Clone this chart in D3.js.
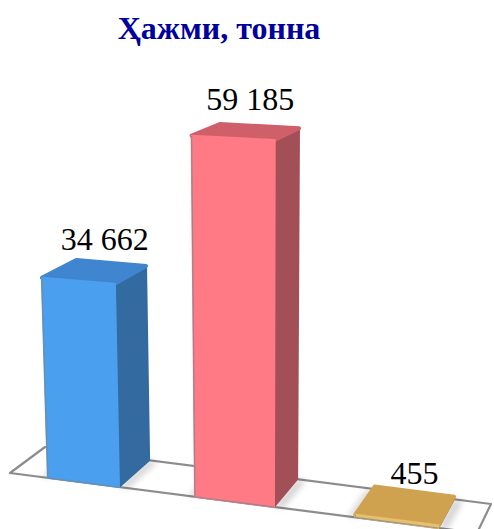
<!DOCTYPE html>
<html>
<head>
<meta charset="utf-8">
<script src="https://cdn.jsdelivr.net/npm/d3@7"></script>
<style>
  html, body { margin: 0; padding: 0; background: #fff; }
  svg { display: block; }
  text { font-family: "Liberation Serif", serif; }
</style>
</head>
<body>
<div id="chart"></div>
<script>
const titleText = 'Ҳажми, тонна';
const categories = ['A', 'B', 'C'];
const values = [34662, 59185, 455];
const valueLabels = ['34 662', '59 185', '455'];

const palette = [
    { front: '#4a9fee', top: '#3f85cf', side: '#336a9f' },
    { front: '#ff7a85', top: '#cf5f69', side: '#a34f58' },
    { front: '#e8bf6c', top: '#cfa24f', side: '#9a7a3c' }
];
const labelNudge = [10, 4, 9];

const W = 494, H = 529;

const svg = d3.select('#chart').append('svg')
    .attr('width', W)
    .attr('height', H);

const defs = svg.append('defs');
defs.append('filter').attr('id', 'soft')
    .attr('x', '-30%').attr('y', '-30%').attr('width', '160%').attr('height', '160%')
    .append('feGaussianBlur').attr('stdDeviation', 3);

// band position along the floor, 0 = left end, 1 = right end
const band = d3.scaleBand()
    .domain(categories)
    .range([0, 1])
    .paddingInner(0.5)
    .paddingOuter(0.27)
    .align(0.574);

// slight perspective along the floor
const warp = d3.scalePow().exponent(1.1).domain([0, 1]).range([0, 1]);

// floor edges in screen space
const frontX = d3.scaleLinear().domain([0, 1]).range([10, 477]);
const frontY = d3.scaleLinear().domain([0, 1]).range([473, 533]);
const backX = d3.scaleLinear().domain([0, 1]).range([45, 491]);
const backY = d3.scaleLinear().domain([0, 1]).range([447, 504]);

// pixels per tonne grows toward the viewer (bigger base y) and with bar height
const pxPerTonne = d3.scaleLinear().domain([451, 487]).range([0.00552, 0.00586]);
const valueBoost = d3.scaleLinear().domain([0, d3.max(values)]).range([0.965, 1.025]);
const leanX = 260, leanK = 0.000143;

function floorPt(u, v) {
    const w = warp(u);
    return [
        frontX(w) + (backX(w) - frontX(w)) * v,
        frontY(w) + (backY(w) - frontY(w)) * v
    ];
}

function lift(p, value) {
    const h = value * pxPerTonne(p[1]) * valueBoost(value);
    return [p[0] + (p[0] - leanX) * leanK * h, p[1] - h];
}

const line = d3.line().curve(d3.curveLinearClosed);
const g = svg.append('g');

// floor
const floor = [floorPt(0, 0), floorPt(1, 0), floorPt(1, 1), floorPt(0, 1)];
g.append('path')
    .attr('d', line(floor))
    .attr('fill', '#fff')
    .attr('stroke', '#8c8c8c')
    .attr('stroke-width', 2.2)
    .attr('stroke-linejoin', 'round');

const bars = categories.map((c, i) => {
    const u0 = band(c), u1 = u0 + band.bandwidth();
    const fl = floorPt(u0, 0), fr = floorPt(u1, 0), br = floorPt(u1, 1), bl = floorPt(u0, 1);
    const v = values[i];
    return {
        i, fl, fr, br, bl,
        tfl: lift(fl, v), tfr: lift(fr, v), tbr: lift(br, v), tbl: lift(bl, v)
    };
});

// soft shadow on the floor, right of each bar
g.selectAll('.shadow')
    .data(bars)
    .enter().append('path')
    .attr('class', 'shadow')
    .attr('d', d => line([d.fr, d.br, [d.br[0] + 9, d.br[1] + 1], [d.fr[0] + 9, d.fr[1] + 1]]))
    .attr('fill', '#000')
    .attr('opacity', 0.18)
    .attr('filter', 'url(#soft)');

// left-side shadow, only visible around the flat bar
g.selectAll('.shadow-left')
    .data(bars)
    .enter().append('path')
    .attr('class', 'shadow-left')
    .attr('d', d => line([d.fl, d.bl, [d.bl[0] - 8, d.bl[1]], [d.fl[0] - 8, d.fl[1]]]))
    .attr('fill', '#000')
    .attr('opacity', 0.16)
    .attr('filter', 'url(#soft)');

// faces
const bar = g.selectAll('.bar')
    .data(bars)
    .enter().append('g')
    .attr('class', 'bar');

function face(sel, pts, color, sw) {
    sel.append('path')
        .attr('d', d => line(pts(d)))
        .attr('fill', d => palette[d.i][color])
        .attr('stroke', d => palette[d.i][color])
        .attr('stroke-width', sw)
        .attr('stroke-linejoin', 'round');
}

face(bar, d => [d.fr, d.br, d.tbr, d.tfr], 'side', 2);
face(bar, d => [d.tfl, d.tfr, d.tbr, d.tbl], 'top', 4);
face(bar, d => [d.fl, d.fr, d.tfr, d.tfl], 'front', 2);

// grey contour at the foot and left of the front face
bar.append('path')
    .attr('d', d => d3.line()([d.tfl, d.fl, d.fr]))
    .attr('fill', 'none')
    .attr('stroke', '#7d8790')
    .attr('stroke-width', 1.2)
    .attr('opacity', 0.75);

// value labels above the centre of the top face
svg.selectAll('.value')
    .data(bars)
    .enter().append('text')
    .attr('class', 'value')
    .attr('x', d => d3.mean([d.tfl, d.tfr, d.tbr, d.tbl], p => p[0]) + labelNudge[d.i])
    .attr('y', d => d3.mean([d.tfl, d.tfr, d.tbr, d.tbl], p => p[1]) - 22)
    .attr('text-anchor', 'middle')
    .attr('font-size', 32)
    .attr('fill', '#000')
    .text(d => valueLabels[d.i]);

svg.append('text')
    .attr('x', 219)
    .attr('y', 39)
    .attr('text-anchor', 'middle')
    .attr('font-size', 32)
    .attr('font-weight', 'bold')
    .attr('fill', '#00009c')
    .text(titleText);
</script>
</body>
</html>
